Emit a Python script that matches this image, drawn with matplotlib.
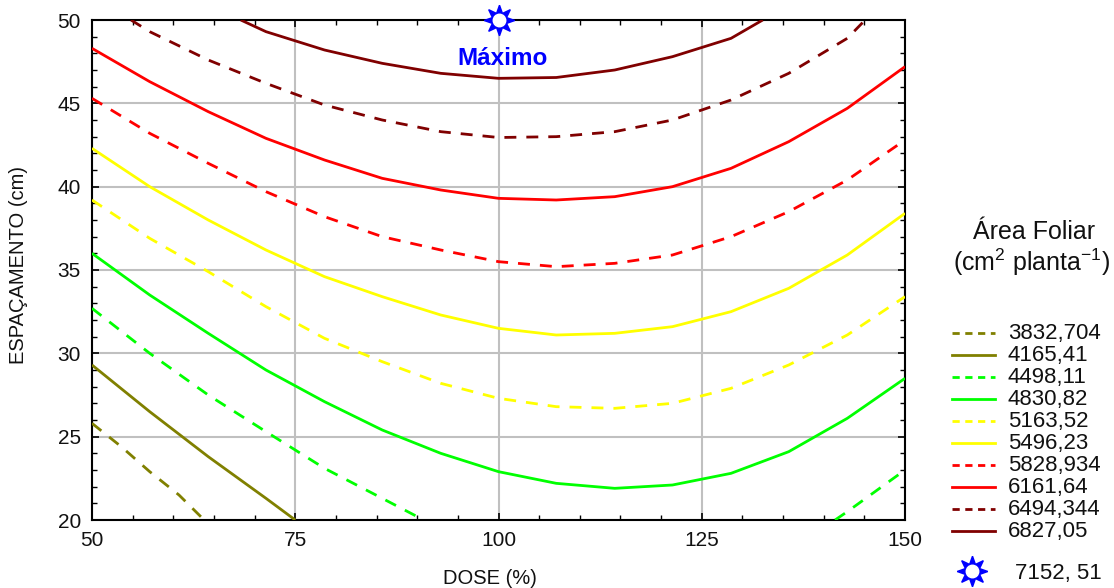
import numpy as np
import matplotlib
matplotlib.use('Agg')
import matplotlib.pyplot as plt
from matplotlib.lines import Line2D
from matplotlib.ticker import MultipleLocator

plt.rcParams['font.family'] = ['Liberation Sans', 'DejaVu Sans']
plt.rcParams['mathtext.fontset'] = 'custom'
plt.rcParams['mathtext.rm'] = 'Liberation Sans'
plt.rcParams['mathtext.it'] = 'Liberation Sans:italic'
plt.rcParams['mathtext.bf'] = 'Liberation Sans:bold'

nan = np.nan

# ---------------- data ----------------
level_labels = ['3832,704', '4165,41', '4498,11', '4830,82', '5163,52',
                '5496,23', '5828,934', '6161,64', '6494,344', '6827,05']
max_label = '7152, 51'
max_dose = 100
max_spacing = 50

dose_grid = [50, 57.1, 64.3, 71.4, 78.6, 85.7, 92.9, 100, 107.1, 114.3, 121.4, 128.6, 135.7, 142.9, 150]

x_3832 = [50, 53.6, 57.1, 60.7, 63.8]
y_3832 = [25.8, 24.4, 22.9, 21.5, 20.0]
x_4165 = [50, 57.1, 64.3, 71.4, 75.0]
y_4165 = [29.3, 26.5, 23.8, 21.3, 20.0]
x_4498 = [50, 57.1, 64.3, 71.4, 78.6, 85.7, 90.8, nan, 141.4, 142.9, 150]
y_4498 = [32.7, 30.0, 27.5, 25.3, 23.1, 21.3, 20.0, nan, 20.0, 20.5, 23.0]
y_4830 = [36.0, 33.5, 31.2, 29.0, 27.1, 25.4, 24.0, 22.9, 22.2, 21.9, 22.1, 22.8, 24.1, 26.1, 28.5]
y_5163 = [39.2, 36.9, 34.9, 32.8, 30.9, 29.5, 28.2, 27.3, 26.8, 26.7, 27.0, 27.9, 29.3, 31.1, 33.4]
y_5496 = [42.3, 40.0, 38.0, 36.2, 34.6, 33.4, 32.3, 31.5, 31.1, 31.2, 31.6, 32.5, 33.9, 35.9, 38.4]
y_5828 = [45.3, 43.2, 41.4, 39.7, 38.2, 37.0, 36.2, 35.5, 35.2, 35.4, 35.9, 37.0, 38.5, 40.4, 42.8]
y_6161 = [48.3, 46.3, 44.5, 42.9, 41.6, 40.5, 39.8, 39.3, 39.2, 39.4, 40.0, 41.1, 42.7, 44.7, 47.2]
x_6494 = [54.8, 57.1, 64.3, 71.4, 78.6, 85.7, 92.9, 100, 107.1, 114.3, 121.4, 128.6, 135.7, 142.9, 145.1]
y_6494 = [50.0, 49.3, 47.6, 46.2, 44.9, 44.0, 43.3, 42.95, 43.0, 43.3, 44.0, 45.2, 46.8, 48.9, 50.0]
x_6827 = [68.3, 71.4, 78.6, 85.7, 92.9, 100, 107.1, 114.3, 121.4, 128.6, 132.5]
y_6827 = [50.0, 49.3, 48.2, 47.4, 46.8, 46.5, 46.55, 47.0, 47.8, 48.9, 50.0]

curves_x = [x_3832, x_4165, x_4498, dose_grid, dose_grid, dose_grid, dose_grid, dose_grid, x_6494, x_6827]
curves_y = [y_3832, y_4165, y_4498, y_4830, y_5163, y_5496, y_5828, y_6161, y_6494, y_6827]

# ---------------- styles ----------------
colors = ['#808000', '#808000', '#00ff00', '#00ff00', '#ffff00',
          '#ffff00', '#ff0000', '#ff0000', '#800000', '#800000']
dashed = [True, False, True, False, True, False, True, False, True, False]

W, H = 1114, 588
fig = plt.figure(figsize=(W / 100, H / 100), dpi=100)
ax = fig.add_axes([92 / W, 1 - 520 / H, (905 - 92) / W, (520 - 20) / H])

def fx(px):
    return px / W

def fy(py):
    return 1 - py / H

for xs, ys, c, d in zip(curves_x, curves_y, colors, dashed):
    ln, = ax.plot(xs, ys, color=c, lw=2.0, zorder=3, solid_capstyle='butt')
    if d:
        ln.set_dashes((4.3, 3.6))

ax.set_xlim(50, 150)
ax.set_ylim(20, 50)
ax.xaxis.set_major_locator(MultipleLocator(25))
ax.xaxis.set_minor_locator(MultipleLocator(5))
ax.yaxis.set_major_locator(MultipleLocator(5))
ax.yaxis.set_minor_locator(MultipleLocator(1))
ax.grid(True, which='major', color='#c0c0c0', lw=1.5, zorder=1)
ax.set_axisbelow(True)
ax.tick_params(which='both', direction='in', top=True, right=True, color='black')
ax.tick_params(which='major', length=5, width=1.2, labelsize=15, pad=8, labelcolor='#111111')
ax.tick_params(which='minor', length=3.5, width=1.0)
for s in ax.spines.values():
    s.set_linewidth(1.5)
    s.set_color('black')

# maximum marker
ax.plot([max_dose], [max_spacing], marker=(8, 1, 0), ms=22, color='#0000ff',
        mec='#0000ff', clip_on=False, zorder=6)
ax.plot([max_dose], [max_spacing], marker='o', ms=9, mfc='white', mec='white',
        clip_on=False, zorder=7)
ax.text(max_dose + 0.5, 47.7, 'Máximo', color='#0000ff', fontsize=17.5, fontweight='bold',
        ha='center', va='center', zorder=8)

# axis labels
fig.text(fx(490), fy(578), 'DOSE (%)', ha='center', va='center', fontsize=14.5, color='#111111')
fig.text(fx(19), fy(265), 'ESPAÇAMENTO (cm)', ha='center', va='center', rotation=90,
         fontsize=14.5, color='#111111')

# legend
fig.text(fx(1034), fy(232), 'Área Foliar', ha='center', va='center', fontsize=18, color='#111111')
fig.text(fx(1032), fy(262), r'(cm$^{2}$ planta$^{-1}$)', ha='center', va='center',
         fontsize=18, color='#111111')
for i, (lab, c, d) in enumerate(zip(level_labels, colors, dashed)):
    yy = fy(333 + 22 * i)
    ln = Line2D([fx(952), fx(995)], [yy, yy], transform=fig.transFigure, color=c, lw=2.0)
    if d:
        ln.set_dashes((2.6, 2.0))
    fig.add_artist(ln)
    fig.text(fx(1008), yy, lab, ha='left', va='center', fontsize=16, color='#111111')

fig.add_artist(Line2D([fx(972)], [fy(571)], transform=fig.transFigure, marker=(8, 1, 0),
                      ms=22, color='#0000ff', mec='#0000ff', lw=0))
fig.add_artist(Line2D([fx(972)], [fy(571)], transform=fig.transFigure, marker='o',
                      ms=9, mfc='white', mec='white', lw=0))
fig.text(fx(1015), fy(574), max_label, ha='left', va='center', fontsize=16, color='#111111')

fig.savefig('out.png', dpi=100)
